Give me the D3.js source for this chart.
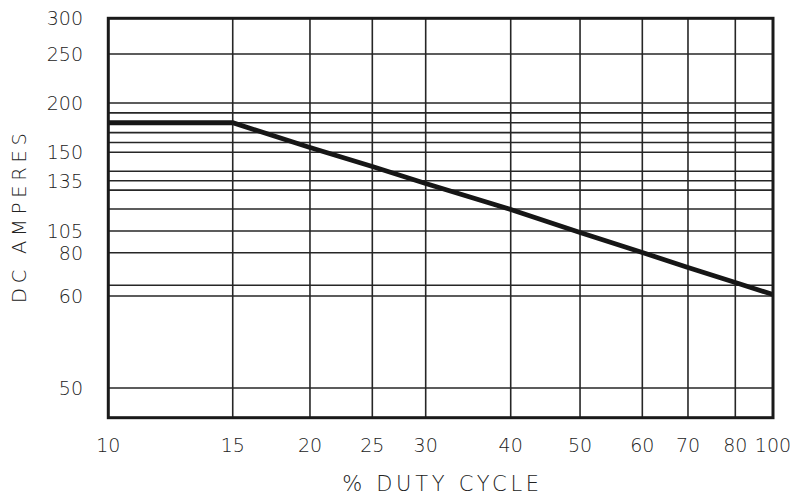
<!DOCTYPE html>
<html>
<head>
<meta charset="utf-8">
<script src="https://cdn.jsdelivr.net/npm/d3@7"></script>
<style>
  html, body { margin: 0; padding: 0; background: #fff; }
  svg { display: block; }
  text { font-family: "DejaVu Sans", "Liberation Sans", sans-serif; font-weight: 200; fill: #222; }
</style>
</head>
<body>
<svg id="chart" width="794" height="496"></svg>
<script>
// ---- data ----
const dutyTicks = [10, 15, 20, 25, 30, 40, 50, 60, 70, 80, 100];
const ampTickLabels = [300, 250, 200, 150, 135, 105, 80, 60, 50];
const ampGridValues = [250, 200, 190, 180, 170, 160, 150, 140, 135, 130, 120, 105, 80, 65, 60, 50];
const dutyCycle = [10, 15, 20, 25, 30, 40, 50, 60, 70, 80, 100];
const dcAmperes = [180, 180, 154.9, 142.5, 133.5, 119.7, 103.3, 80.2, 73.2, 66.2, 60.7];
const xTitle = "% DUTY CYCLE";
const yTitle = "DC AMPERES";

// ---- layout ----
const svg = d3.select("#chart");
const mLeft = 108.3, mRight = 773, mTop = 18.3, mBottom = 417.7;
const W = mRight - mLeft, H = mBottom - mTop;

// hand-drawn (non-uniform) axes: piecewise scales
const xFrac = [0, 0.1872, 0.3034, 0.3972, 0.4775, 0.6054, 0.7097, 0.8034, 0.8721, 0.9433, 1];
const x = d3.scaleLinear().domain(dutyTicks).range(xFrac.map(f => mLeft + f * W));

const yKnots = [300, 250, 200, 150, 135, 120, 105, 80, 60, 50, 46.8];
const yFrac  = [0, 0.0894, 0.2121, 0.3355, 0.4066, 0.4775, 0.5326, 0.5869, 0.6953, 0.9256, 1];
const y = d3.scaleLinear().domain(yKnots).range(yFrac.map(f => mTop + f * H));

const gridColor = "#262626";

// horizontal gridlines
svg.append("g").selectAll("line").data(ampGridValues).join("line")
  .attr("x1", mLeft).attr("x2", mRight)
  .attr("y1", d => y(d)).attr("y2", d => y(d))
  .attr("stroke", gridColor).attr("stroke-width", 1.6);

// vertical gridlines
svg.append("g").selectAll("line").data(dutyTicks.slice(1, -1)).join("line")
  .attr("x1", d => x(d)).attr("x2", d => x(d))
  .attr("y1", mTop).attr("y2", mBottom)
  .attr("stroke", gridColor).attr("stroke-width", 1.6);

// data line
const line = d3.line().x((d, i) => x(dutyCycle[i])).y(d => y(d));
svg.append("path").datum(dcAmperes)
  .attr("d", line)
  .attr("fill", "none").attr("stroke", "#161616")
  .attr("stroke-width", 4.8).attr("stroke-linejoin", "miter");

// frame
svg.append("rect")
  .attr("x", mLeft).attr("y", mTop).attr("width", W).attr("height", H)
  .attr("fill", "none").attr("stroke", "#1a1a1a").attr("stroke-width", 3);

// y tick labels
svg.append("g").selectAll("text").data(ampTickLabels).join("text")
  .attr("x", 83).attr("y", d => y(d))
  .attr("text-anchor", "end").attr("dominant-baseline", "central")
  .attr("font-size", 19)
  .text(d => d);

// x tick labels
svg.append("g").selectAll("text").data(dutyTicks).join("text")
  .attr("x", d => x(d)).attr("y", 444.5)
  .attr("text-anchor", "middle").attr("dominant-baseline", "central")
  .attr("font-size", 19)
  .text(d => d);

// axis titles
svg.append("text")
  .attr("x", (mLeft + mRight) / 2).attr("y", 491)
  .attr("text-anchor", "middle")
  .attr("font-size", 21)
  .attr("textLength", 197).attr("lengthAdjust", "spacing")
  .text(xTitle);

svg.append("text")
  .attr("transform", `translate(25.5, ${(mTop + mBottom) / 2}) rotate(-90)`)
  .attr("text-anchor", "middle")
  .attr("font-size", 19.5)
  .attr("textLength", 170).attr("lengthAdjust", "spacing")
  .text(yTitle);
</script>
</body>
</html>
